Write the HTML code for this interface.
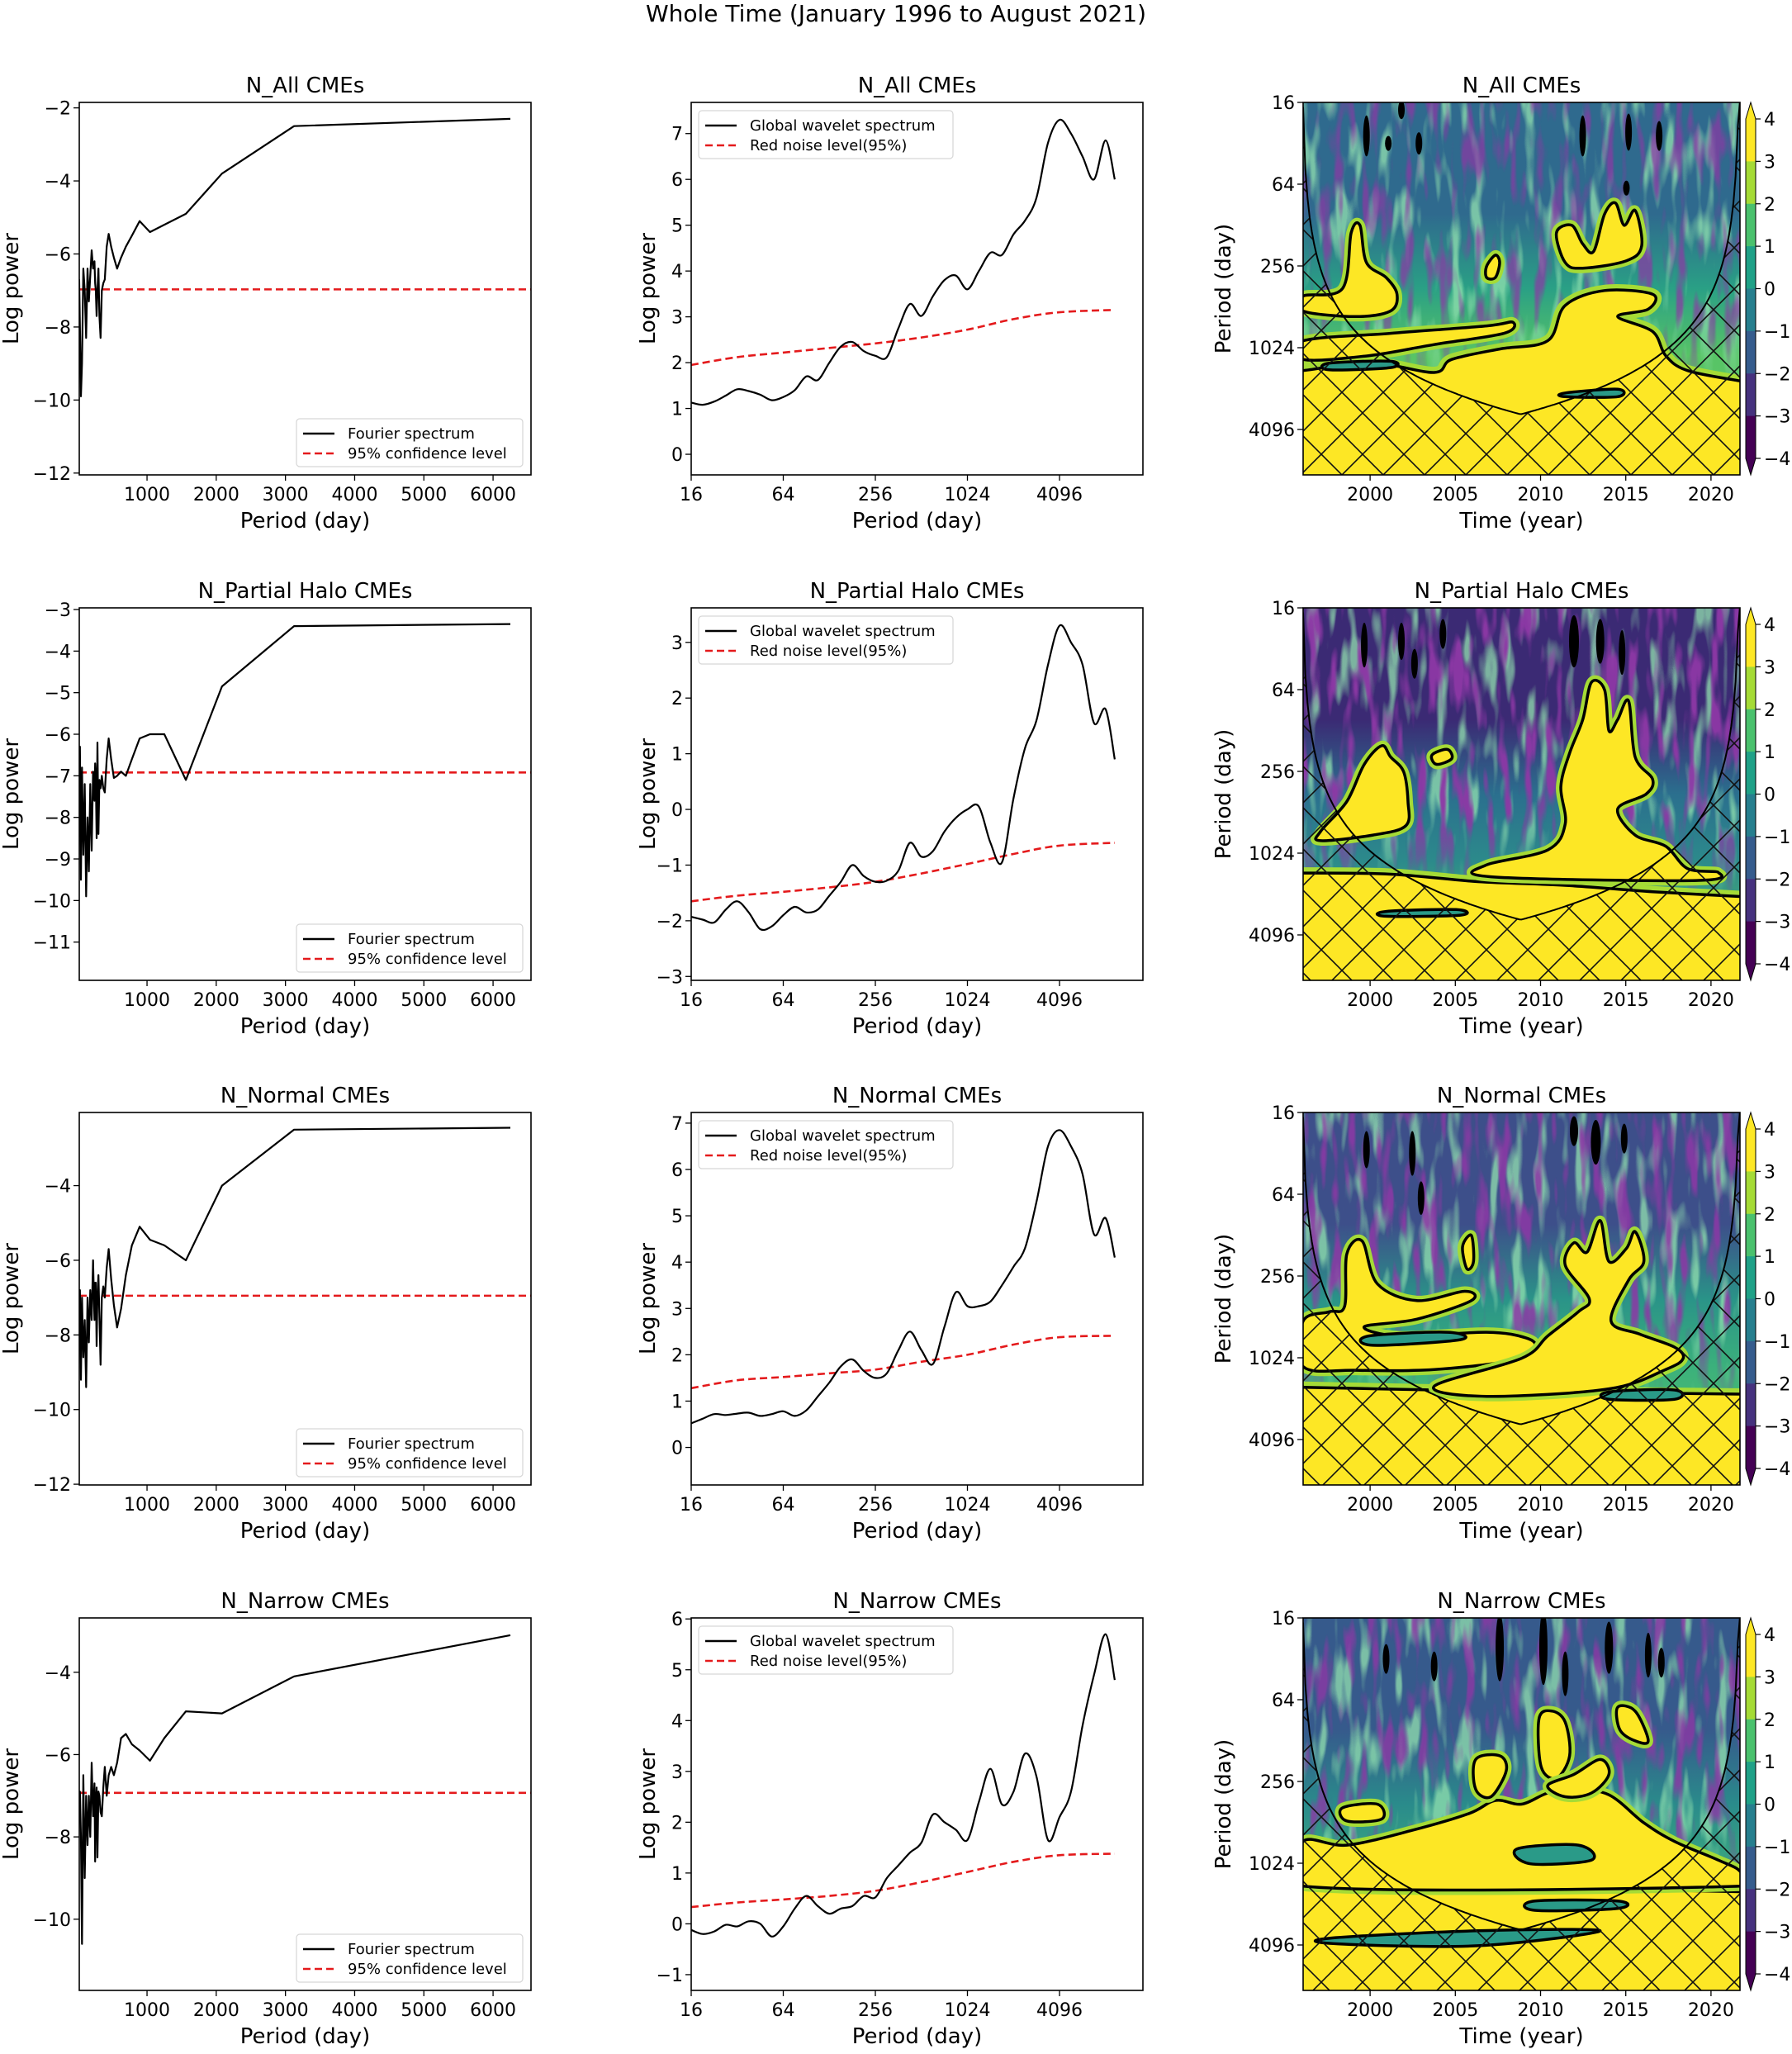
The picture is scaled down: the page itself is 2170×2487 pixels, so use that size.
<!DOCTYPE html>
<html><head><meta charset="utf-8"><title>Whole Time (January 1996 to August 2021)</title>
<style>
html,body{margin:0;padding:0;background:#fff;}
svg{display:block;font-family:"DejaVu Sans","Liberation Sans",sans-serif;}
</style></head>
<body>
<svg id="fig" width="2170" height="2487" viewBox="0 0 2170 2487" xmlns="http://www.w3.org/2000/svg">
<defs>
<pattern id="hatch" patternUnits="userSpaceOnUse" width="50" height="50">
<path d="M0,0 L50,50 M50,0 L0,50" stroke="#111" stroke-width="1.6" fill="none"/>
</pattern>
<filter id="noiseP" x="0" y="0" width="1" height="1">
<feTurbulence type="fractalNoise" baseFrequency="0.07 0.014" numOctaves="2" seed="3"/>
<feColorMatrix type="matrix" values="0 0 0 0 0.27  0 0 0 0 0.04  0 0 0 0 0.38  5 0 0 0 -2.55"/>
</filter>
<filter id="noiseG" x="0" y="0" width="1" height="1">
<feTurbulence type="fractalNoise" baseFrequency="0.065 0.013" numOctaves="2" seed="11"/>
<feColorMatrix type="matrix" values="0 0 0 0 0.29  0 0 0 0 0.76  0 0 0 0 0.43  5 0 0 0 -2.6"/>
</filter>
<linearGradient id="fadeMask" x1="0" y1="0" x2="0" y2="1">
<stop offset="0" stop-color="#fff"/><stop offset="0.55" stop-color="#fff"/><stop offset="0.8" stop-color="#000"/>
</linearGradient>
</defs>
<text x="1085" y="26" font-size="28" text-anchor="middle">Whole Time (January 1996 to August 2021)</text>
<g id="plots"></g>
</svg>
<script>
// ---------- data ----------
const rowTitles = ["N_All CMEs","N_Partial Halo CMEs","N_Normal CMEs","N_Narrow CMEs"];
const fourierPeriods = [6250,3125,2083,1562,1250,1042,893,781,694,625,568,521,481,446,417,390,368,347,329,312,298,284,272,260,250,240,220,200,180,160,140,120,100,80,60,45,30,20];
const fourierAll = [-2.3,-2.5,-3.8,-4.9,-5.2,-5.4,-5.1,-5.5,-5.8,-6.1,-6.4,-6.1,-5.8,-5.45,-5.8,-6.7,-6.8,-7.0,-8.3,-7.7,-6.4,-7.0,-7.7,-7.0,-6.8,-6.2,-6.4,-5.9,-6.6,-7.3,-6.4,-8.3,-7.0,-6.4,-9.0,-9.9,-8.0,-6.7];
const fourierPartial = [-3.35,-3.4,-4.85,-7.1,-6.0,-6.0,-6.1,-6.6,-7.0,-6.9,-7.0,-7.05,-6.6,-6.1,-6.6,-7.4,-7.3,-7.0,-7.3,-7.1,-8.4,-6.2,-8.5,-7.0,-6.7,-7.6,-6.9,-8.8,-7.2,-9.3,-8.0,-9.9,-7.2,-8.9,-6.8,-9.5,-6.3,-7.0];
const fourierNormal = [-2.45,-2.5,-4.0,-6.0,-5.6,-5.45,-5.1,-5.6,-6.4,-7.3,-7.8,-7.2,-6.5,-5.7,-6.2,-7.0,-6.7,-7.0,-8.8,-7.5,-6.4,-7.0,-8.3,-6.6,-6.6,-7.6,-6.0,-7.6,-6.8,-8.2,-7.0,-9.4,-7.6,-8.6,-7.0,-9.2,-6.8,-7.3];
const fourierNarrow = [-3.1,-4.1,-5.0,-4.95,-5.6,-6.15,-5.9,-5.75,-5.5,-5.6,-6.2,-6.5,-6.3,-6.5,-7.0,-6.3,-6.8,-7.5,-7.4,-7.0,-6.9,-8.5,-6.8,-7.2,-8.6,-6.7,-7.5,-6.2,-8.0,-7.0,-8.2,-7.0,-9.0,-6.5,-10.6,-8.0,-6.9,-7.2];
const fourierConf = [-6.97,-6.92,-6.95,-6.93];
const leftYDomains = [[-12.05,-1.85],[-11.92,-2.96],[-12.02,-2.04],[-11.73,-2.68]];
const leftYTicks = [[-12,-10,-8,-6,-4,-2],[-11,-10,-9,-8,-7,-6,-5,-4,-3],[-12,-10,-8,-6,-4],[-10,-8,-6,-4]];
const leftXTicks = [1000,2000,3000,4000,5000,6000];

const gwsOctaves = [4,4.25,4.5,4.75,5,5.25,5.5,5.75,6,6.25,6.5,6.75,7,7.25,7.5,7.75,8,8.25,8.5,8.75,9,9.25,9.5,9.75,10,10.25,10.5,10.75,11,11.25,11.5,11.75,12,12.25,12.5,12.75,13,13.2];
const gwsAll = [1.13,1.08,1.15,1.28,1.42,1.38,1.30,1.18,1.25,1.4,1.7,1.62,2.0,2.35,2.45,2.25,2.15,2.12,2.75,3.28,3.02,3.45,3.8,3.9,3.6,4.0,4.4,4.35,4.8,5.1,5.6,6.8,7.3,7.0,6.5,6.0,6.85,6.0];
const gwsPartial = [-1.93,-1.98,-2.03,-1.8,-1.65,-1.85,-2.15,-2.1,-1.9,-1.75,-1.85,-1.8,-1.55,-1.3,-1.0,-1.2,-1.3,-1.28,-1.1,-0.6,-0.85,-0.75,-0.4,-0.15,0.0,0.05,-0.6,-0.95,0.2,1.1,1.6,2.6,3.3,3.0,2.6,1.55,1.8,0.9];
const gwsNormal = [0.52,0.62,0.72,0.7,0.73,0.75,0.68,0.72,0.78,0.68,0.8,1.1,1.4,1.75,1.9,1.65,1.5,1.6,2.1,2.5,2.1,1.8,2.6,3.35,3.05,3.05,3.15,3.5,3.9,4.3,5.3,6.5,6.85,6.5,5.9,4.6,4.95,4.1];
const gwsNarrow = [-0.12,-0.2,-0.15,-0.02,-0.05,0.05,0.0,-0.25,-0.05,0.3,0.55,0.35,0.2,0.3,0.35,0.55,0.52,0.9,1.15,1.4,1.6,2.15,2.0,1.85,1.65,2.4,3.05,2.35,2.6,3.35,2.9,1.65,2.1,2.6,3.9,4.9,5.7,4.8];
const redOctaves = [4,5,6,7,8,9,10,11,12,13.2];
const redAll = [1.95,2.12,2.22,2.32,2.42,2.55,2.72,2.95,3.1,3.15];
const redPartial = [-1.65,-1.55,-1.48,-1.4,-1.3,-1.15,-0.98,-0.8,-0.65,-0.6];
const redNormal = [1.28,1.45,1.52,1.6,1.68,1.85,2.0,2.22,2.38,2.41];
const redNarrow = [0.33,0.42,0.48,0.55,0.65,0.82,1.02,1.22,1.35,1.38];
const midYDomains = [[-0.45,7.68],[-3.07,3.62],[-0.81,7.23],[-1.31,6.02]];
const midYTicks = [[0,1,2,3,4,5,6,7],[-3,-2,-1,0,1,2,3],[0,1,2,3,4,5,6,7],[-1,0,1,2,3,4,5,6]];
const midXTickLabels = ["16","64","256","1024","4096"];
const midXTickOctaves = [4,6,8,10,12];

const waveYTickLabels = ["16","64","256","1024","4096"];
const waveYTickPeriods = [16,64,256,1024,4096];
const waveXTicks = [2000,2005,2010,2015,2020];
const cbarLevels = [4,3,2,1,0,-1,-2,-3,-4];
const cbarColors = ["#fde725","#a5db36","#4ac16d","#1fa187","#277f8e","#365c8d","#46327e","#440154"];

const fourierSeries = [fourierAll,fourierPartial,fourierNormal,fourierNarrow];
const gwsSeries = [gwsAll,gwsPartial,gwsNormal,gwsNarrow];
const redSeries = [redAll,redPartial,redNormal,redNarrow];

// ---------- layout ----------
const rowTops = [124,736,1347,1959];
const H = 451;
const L = {x0:96,x1:643}, M = {x0:837,x1:1384}, R = {x0:1578,x1:2107};
const NS = "http://www.w3.org/2000/svg";
const root = document.getElementById('plots');

function mk(tag, attrs, parent){
  const e = document.createElementNS(NS, tag);
  for (const k in attrs) e.setAttribute(k, attrs[k]);
  (parent||root).appendChild(e);
  return e;
}
function txt(s, attrs, parent){ const t = mk('text', attrs, parent); t.textContent = s; return t; }
function fmt(v){ return (v<0?"\u2212":"")+Math.abs(v); }
function smoothPath(pts, closed){
  const n = pts.length; let d = "M"+pts[0][0].toFixed(1)+","+pts[0][1].toFixed(1);
  const get = i => closed ? pts[(i+n)%n] : pts[Math.max(0,Math.min(n-1,i))];
  const last = closed ? n : n-1;
  for (let i=0;i<last;i++){
    const p0=get(i-1),p1=get(i),p2=get(i+1),p3=get(i+2);
    const c1=[p1[0]+(p2[0]-p0[0])/6,p1[1]+(p2[1]-p0[1])/6];
    const c2=[p2[0]-(p3[0]-p1[0])/6,p2[1]-(p3[1]-p1[1])/6];
    d+=" C"+c1[0].toFixed(1)+","+c1[1].toFixed(1)+" "+c2[0].toFixed(1)+","+c2[1].toFixed(1)+" "+p2[0].toFixed(1)+","+p2[1].toFixed(1);
  }
  return d+(closed?" Z":"");
}
function frame(x0,y0,x1,y1,g){
  const r = mk('rect',{x:x0,y:y0,width:x1-x0,height:y1-y0,fill:'none',stroke:'#000','stroke-width':1.6},g);
  
  
}
function yTick(g,x,y,label){
  mk('line',{x1:x-7,y1:y,x2:x,y2:y,stroke:'#000','stroke-width':1.3},g);
  const t = txt(label,{x:x-10,y:y+8,'font-size':22,'text-anchor':'end'},g);
  
  
}
function xTick(g,x,y,label){
  mk('line',{x1:x,y1:y,x2:x,y2:y+7,stroke:'#000','stroke-width':1.3},g);
  const t = txt(label,{x:x,y:y+31,'font-size':22,'text-anchor':'middle'},g);
  
  
}
function legend(g,x,y,w,labels){
  const box = mk('rect',{x:x,y:y,width:w,height:58,rx:4,fill:'#fff','fill-opacity':0.85,stroke:'#d6d6d6','stroke-width':1.2},g);
  
  
  const l1 = mk('line',{x1:x+8,y1:y+18,x2:x+46,y2:y+18,stroke:'#000','stroke-width':2.6},g);
  
  
  const t1 = txt(labels[0],{x:x+62,y:y+24,'font-size':18},g);
  
  
  const l2 = mk('line',{x1:x+8,y1:y+42,x2:x+46,y2:y+42,stroke:'#e41a1c','stroke-width':2.6,'stroke-dasharray':'9,5'},g);
  
  
  const t2 = txt(labels[1],{x:x+62,y:y+48,'font-size':18},g);
  
  
}

// ---------- wavelet shapes (normalized 0..1000 within panel) ----------
const waveCfg = [
 {top:"#2f6a8e", mid:"#2aa085", low:"#58c466", pOp:0.7, yB:[[0,720],[160,700],[300,725],[340,690],[450,662],[560,640],[600,545],[690,505],[800,515],[790,555],[720,575],[800,615],[830,680],[880,720],[1000,748]],
  blobs:[[[0,520],[90,500],[110,350],[130,330],[145,430],[190,470],[215,515],[200,560],[120,575],[0,560]],
         [[580,350],[615,330],[640,380],[665,400],[690,300],[715,270],[735,330],[760,290],[775,385],[740,425],[640,445],[600,430]],
         [[420,440],[440,410],[450,430],[440,470],[420,470]],
         [[0,640],[200,620],[420,600],[480,590],[460,620],[300,650],[150,680],[0,690]]],
  dots:[[145,90,4,55],[195,110,4,20],[225,20,4,25],[265,110,4,30],[640,90,4,55],[745,80,4,50],[815,90,4,40],[740,230,4,20]]},
 {top:"#3b2a74", mid:"#2b6f8e", low:"#2c8a8b", pOp:0.95, yB:[[0,712],[200,715],[400,735],[600,745],[800,762],[1000,775]],
  blobs:[[[40,600],[100,520],[140,420],[180,370],[200,400],[230,440],[240,520],[235,585],[160,610],[40,625]],
         [[420,690],[560,650],[600,580],[590,480],[610,390],[640,300],[660,200],[690,220],[700,330],[720,300],[745,250],[760,400],[800,460],[785,500],[720,540],[760,610],[830,640],[880,700],[950,710],[900,732],[430,722]],
         [[295,395],[330,380],[340,405],[305,420]]],
  dots:[[140,100,4,60],[225,90,4,50],[255,150,4,40],[320,70,4,40],[620,90,6,70],[680,90,5,60],[730,120,4,60]]},
 {top:"#3d4f8a", mid:"#2a9388", low:"#3bb07c", pOp:0.85, yB:[[0,738],[300,745],[500,750],[700,752],[1000,756]],
  blobs:[[[0,560],[60,535],[95,520],[100,380],[135,345],[170,460],[260,505],[370,480],[385,505],[260,555],[140,575],[220,600],[420,590],[510,605],[530,630],[480,665],[300,690],[120,692],[0,682]],
         [[560,600],[630,535],[655,500],[600,410],[620,350],[650,375],[680,290],[700,400],[740,365],[760,320],[780,400],[745,450],[705,560],[770,595],[850,630],[870,660],[830,690],[700,742],[420,762],[300,735],[500,660]],
         [[365,360],[385,330],[390,400],[375,420]]],
  dots:[[145,100,4,50],[250,110,4,60],[270,230,4,45],[620,50,5,40],[670,80,6,60],[735,70,4,40]]},
 {top:"#365a8c", mid:"#2a8b8b", low:"#3ba87f", pOp:0.8, yB:[[0,720],[300,715],[600,725],[1000,735]],
  blobs:[[[0,600],[100,610],[250,570],[380,525],[440,490],[500,500],[560,470],[620,460],[700,475],[780,550],[850,600],[950,650],[1000,680],[1000,720],[0,720]],
         [[395,380],[450,370],[465,410],[430,480],[395,460]],
         [[540,270],[570,250],[600,280],[610,370],[580,430],[545,400]],
         [[560,450],[620,420],[680,380],[700,420],[660,470],[600,480]],
         [[720,240],[760,250],[790,330],[760,330],[725,300]],
         [[90,510],[170,500],[180,540],[100,545]]],
  dots:[[190,110,4,40],[300,130,4,40],[450,80,5,90],[550,80,5,100],[600,150,4,60],[700,80,5,70],[790,100,4,60],[820,120,4,40]]}
];
const holes = [
 [[[60,700],[200,695],[200,712],[60,718]],[[600,780],[720,770],[720,790],[600,790]]],
 [[[190,815],[350,810],[360,825],[190,828]]],
 [[[150,600],[330,590],[360,610],[160,625]],[[700,750],[850,745],[850,770],[700,770]]],
 [[[490,620],[630,610],[660,650],[520,660]],[[530,760],[720,760],[720,780],[530,785]],[[60,860],[400,840],[680,840],[400,880],[80,875]]]
];

// ---------- build rows ----------
for (let r=0;r<4;r++){
  const y0 = rowTops[r], y1 = y0+H;
  // ===== LEFT: Fourier =====
  const gl = mk('g',{});
  
  
  const [ymn,ymx] = leftYDomains[r];
  const lx = v => L.x0 + (v-21)/(6548-21)*(L.x1-L.x0);
  const ly = v => y1 - (v-ymn)/(ymx-ymn)*H;
  const cpL = 'clipL'+r;
  const cp = mk('clipPath',{id:cpL},gl); mk('rect',{x:L.x0,y:y0,width:L.x1-L.x0,height:H},cp);
  const conf = mk('line',{x1:L.x0,x2:L.x1,y1:ly(fourierConf[r]),y2:ly(fourierConf[r]),stroke:'#e41a1c','stroke-width':2.6,'stroke-dasharray':'9,5','clip-path':'url(#'+cpL+')'},gl);
  
  
  const fs = fourierSeries[r];
  let d = "";
  fourierPeriods.forEach((p,i)=>{ d += (i?"L":"M")+lx(p).toFixed(1)+","+ly(fs[i]).toFixed(1)+" "; });
  const fl = mk('path',{d:d,fill:'none',stroke:'#000','stroke-width':2.2,'stroke-linejoin':'round','clip-path':'url(#'+cpL+')'},gl);
  
  
  frame(L.x0,y0,L.x1,y1,gl);
  leftYTicks[r].forEach(v=>yTick(gl,L.x0,ly(v),fmt(v)));
  leftXTicks.forEach(v=>xTick(gl,lx(v),y1,String(v)));
  legend(gl,359,y0+383,274,["Fourier spectrum","95% confidence level"]);
  let t = txt(rowTitles[r],{x:(L.x0+L.x1)/2,y:y0-12,'font-size':26,'text-anchor':'middle'},gl);
  
  
  t = txt("Period (day)",{x:(L.x0+L.x1)/2,y:y1+64,'font-size':26,'text-anchor':'middle'},gl);
  
  
  t = txt("Log power",{x:0,y:0,'font-size':26,'text-anchor':'middle',transform:'translate(22,'+(y0+H/2)+') rotate(-90)'},gl);
  
  

  // ===== MIDDLE: Global wavelet =====
  const gm = mk('g',{});
  
  
  const [mmn,mmx] = midYDomains[r];
  const mx = o => M.x0 + (o-4)*55.75;
  const my = v => y1 - (v-mmn)/(mmx-mmn)*H;
  const gw = gwsSeries[r], rd = redSeries[r];
  const redPts = redOctaves.map((o,i)=>[mx(o),my(rd[i])]);
  const rl = mk('path',{d:smoothPath(redPts,false),fill:'none',stroke:'#e41a1c','stroke-width':2.6,'stroke-dasharray':'9,5'},gm);
  
  
  const gPts = gwsOctaves.map((o,i)=>[mx(o),my(gw[i])]);
  const gl2 = mk('path',{d:smoothPath(gPts,false),fill:'none',stroke:'#000','stroke-width':2.2},gm);
  
  
  frame(M.x0,y0,M.x1,y1,gm);
  midYTicks[r].forEach(v=>yTick(gm,M.x0,my(v),fmt(v)));
  midXTickOctaves.forEach((o,i)=>xTick(gm,mx(o),y1,midXTickLabels[i]));
  legend(gm,846,y0+10,308,["Global wavelet spectrum","Red noise level(95%)"]);
  t = txt(rowTitles[r],{x:(M.x0+M.x1)/2,y:y0-12,'font-size':26,'text-anchor':'middle'},gm);
  
  
  t = txt("Period (day)",{x:(M.x0+M.x1)/2,y:y1+64,'font-size':26,'text-anchor':'middle'},gm);
  
  
  t = txt("Log power",{x:0,y:0,'font-size':26,'text-anchor':'middle',transform:'translate(793,'+(y0+H/2)+') rotate(-90)'},gm);
  
  

  // ===== RIGHT: wavelet power =====
  const gr = mk('g',{});
  
  
  const W = R.x1-R.x0;
  const U = u => R.x0 + u/1000*W, V = v => y0 + v/1000*H;
  const cfg = waveCfg[r];
  const cpR = 'clipR'+r;
  const cp2 = mk('clipPath',{id:cpR},gr); mk('rect',{x:R.x0,y:y0,width:W,height:H},cp2);
  const inner = mk('g',{'clip-path':'url(#'+cpR+')'},gr);
  const gid = 'bg'+r;
  const lg = mk('linearGradient',{id:gid,x1:0,y1:0,x2:0,y2:1},gr);
  mk('stop',{offset:0,'stop-color':cfg.top},lg);
  mk('stop',{offset:0.3,'stop-color':cfg.top},lg);
  mk('stop',{offset:0.5,'stop-color':cfg.mid},lg);
  mk('stop',{offset:0.68,'stop-color':cfg.low},lg);
  mk('stop',{offset:1,'stop-color':'#5ec962'},lg);
  const bg = mk('rect',{x:R.x0,y:y0,width:W,height:H,fill:'url(#'+gid+')'},inner);
  
  
  const mkId = 'fm'+r;
  const mask = mk('mask',{id:mkId,maskUnits:'userSpaceOnUse',x:R.x0,y:y0,width:W,height:H},gr);
  mk('rect',{x:R.x0,y:y0,width:W,height:H,fill:'url(#fadeMask)'},mask);
  const ng = mk('g',{mask:'url(#'+mkId+')'},inner);
  mk('rect',{x:R.x0,y:y0,width:W,height:H,filter:'url(#noiseG)',opacity:0.75},ng);
  mk('rect',{x:R.x0,y:y0,width:W,height:H,filter:'url(#noiseP)',opacity:cfg.pOp},ng);
  // yellow bottom
  const bottom = cfg.yB.map(p=>[U(p[0]),V(p[1])]);
  let bd = smoothPath(bottom,false) + " L"+U(1000)+","+V(1000)+" L"+U(0)+","+V(1000)+" Z";
  mk('path',{d:bd,fill:'#a5db36',stroke:'#a5db36','stroke-width':14},inner);
  const yb = mk('path',{d:bd,fill:'#fde725'},inner);
  
  
  mk('path',{d:smoothPath(bottom,false),fill:'none',stroke:'#000','stroke-width':3.5},inner);
  cfg.blobs.forEach(b=>{
    const pts = b.map(p=>[U(p[0]),V(p[1])]);
    const dd = smoothPath(pts,true);
    mk('path',{d:dd,fill:'#fde725',stroke:'#a5db36','stroke-width':12},inner);
    const bp = mk('path',{d:dd,fill:'#fde725',stroke:'#000','stroke-width':3.5},inner);
    
    
  });
  holes[r].forEach(b=>{
    const pts = b.map(p=>[U(p[0]),V(p[1])]);
    mk('path',{d:smoothPath(pts,true),fill:'#2a9a88',stroke:'#000','stroke-width':3.5},inner);
  });
  cfg.dots.forEach(dt=>{
    mk('ellipse',{cx:U(dt[0]),cy:V(dt[1]),rx:dt[2],ry:dt[3]/1000*H,fill:'#000'},inner);
  });
  // cone of influence
  const t0=1996.0, t1=2021.67, tmin=1996.07, tmax=2021.7;
  const tx = t => R.x0 + (t-tmin)/(tmax-tmin)*W;
  const py = P => y0 + 49.5*Math.log2(P/16);
  const coi = [];
  for (let k=0;k<=200;k++){
    const t = tmin + (tmax-tmin)*k/200;
    const P = Math.max(8, 0.676*Math.min(t-t0,t1-t)*365.25);
    coi.push([tx(t), Math.max(y0-2, py(P))]);
  }
  let cd = "M"+coi.map(p=>p[0].toFixed(1)+","+p[1].toFixed(1)).join(" L");
  const hd = cd + " L"+R.x1+","+(y0-5)+" L"+R.x1+","+(y1+5)+" L"+R.x0+","+(y1+5)+" L"+R.x0+","+(y0-5)+" Z";
  const hatchClip = 'hc'+r;
  const hc = mk('clipPath',{id:hatchClip},gr);
  mk('path',{d:hd},hc);
  const hg = mk('g',{'clip-path':'url(#'+hatchClip+')'},inner);
  const ha = mk('rect',{x:R.x0,y:y0,width:W,height:H,fill:'url(#hatch)'},hg);
  
  
  const cl = mk('path',{d:cd,fill:'none',stroke:'#000','stroke-width':2},inner);
  
  
  frame(R.x0,y0,R.x1,y1,gr);
  waveYTickPeriods.forEach((P,i)=>yTick(gr,R.x0,py(P),waveYTickLabels[i]));
  waveXTicks.forEach(v=>xTick(gr,tx(v),y1,String(v)));
  t = txt(rowTitles[r],{x:(R.x0+R.x1)/2,y:y0-12,'font-size':26,'text-anchor':'middle'},gr);
  
  
  t = txt("Time (year)",{x:(R.x0+R.x1)/2,y:y1+64,'font-size':26,'text-anchor':'middle'},gr);
  
  
  t = txt("Period (day)",{x:0,y:0,'font-size':26,'text-anchor':'middle',transform:'translate(1490,'+(y0+H/2)+') rotate(-90)'},gr);
  
  

  // colorbar
  const gc = mk('g',{});
  
  
  const cx0 = 2114, cx1 = 2126, ext = 20;
  const step = (H-2*ext)/(cbarLevels.length-1);
  const cy = i => y0 + ext + i*step;
  mk('path',{d:"M"+cx0+","+cy(0)+" L"+((cx0+cx1)/2)+","+y0+" L"+cx1+","+cy(0)+" Z",fill:cbarColors[0]},gc);
  cbarColors.forEach((c,i)=>{ mk('rect',{x:cx0,y:cy(i),width:cx1-cx0,height:step+0.5,fill:c},gc); });
  mk('path',{d:"M"+cx0+","+cy(8)+" L"+((cx0+cx1)/2)+","+y1+" L"+cx1+","+cy(8)+" Z",fill:cbarColors[7]},gc);
  mk('path',{d:"M"+cx0+","+cy(0)+" L"+((cx0+cx1)/2)+","+y0+" L"+cx1+","+cy(0)+" L"+cx1+","+cy(8)+" L"+((cx0+cx1)/2)+","+y1+" L"+cx0+","+cy(8)+" Z",fill:'none',stroke:'#000','stroke-width':1},gc);
  cbarLevels.forEach((lv,i)=>{
    mk('line',{x1:cx1,y1:cy(i),x2:cx1+6,y2:cy(i),stroke:'#000','stroke-width':1.2},gc);
    const ct = txt(fmt(lv),{x:cx1+10,y:cy(i)+8,'font-size':22},gc);
    
    
  });
}
</script>
</body></html>
